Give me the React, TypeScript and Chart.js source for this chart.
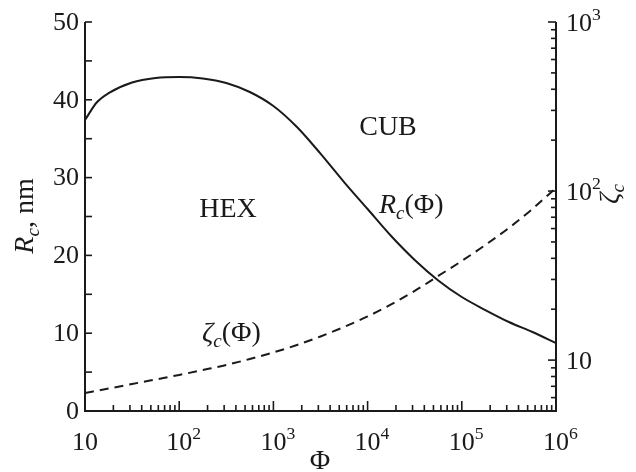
import { useEffect, useRef } from "react";
import { Chart, registerables } from "chart.js";

Chart.register(...registerables);

// ---- data ----
const rcPhi = [10, 13.3, 17.8, 31.6, 56.2, 100, 178, 316, 562, 1000, 1778, 3162, 5623, 10000, 17783, 31623, 56234, 100000, 177828, 316228, 562341, 1000000];
const rcValues = [37.4, 39.65, 40.85, 42.22, 42.8, 42.93, 42.74, 42.16, 41.0, 39.2, 36.5, 33.08, 29.43, 25.96, 22.49, 19.41, 16.78, 14.65, 12.98, 11.44, 10.15, 8.74];

const zetaPhi = [10, 17.8, 31.6, 56.2, 100, 178, 316, 562, 1000, 1778, 3162, 5623, 10000, 17783, 31623, 56234, 100000, 177828, 316228, 562341, 1000000];
const zetaValues = [6.39, 6.79, 7.22, 7.68, 8.17, 8.74, 9.36, 10.15, 11.1, 12.29, 13.8, 15.71, 18.12, 21.35, 25.65, 31.47, 38.6, 48.0, 60.5, 78.4, 104.4];

const leftTickValues = [0, 10, 20, 30, 40, 50];
const leftTickLabels = ["0", "10", "20", "30", "40", "50"];
const xDecades = [10, 100, 1000, 10000, 100000, 1000000];
const xTickExponents = ["", "2", "3", "4", "5", "6"];
const rightDecades = [10, 100, 1000];
const rightTickExponents = ["", "2", "3"];

const FONT = '"Liberation Serif", "Times New Roman", Times, serif';
const INK = "#1a1a1a";

type Part = { t: string; it?: boolean; sub?: boolean; sup?: boolean };

function fontFor(p: Part, size: number) {
  const s = p.sub || p.sup ? size * 0.68 : size;
  return `${p.it ? "italic " : ""}${s}px ${FONT}`;
}

function drawRich(ctx: CanvasRenderingContext2D, parts: Part[], x: number, y: number, align: "left" | "center" | "right", size: number) {
  const widths = parts.map((p) => {
    ctx.font = fontFor(p, size);
    return ctx.measureText(p.t).width;
  });
  const w = widths.reduce((a, b) => a + b, 0);
  let cx = align === "left" ? x : align === "center" ? x - w / 2 : x - w;
  ctx.textAlign = "left";
  ctx.textBaseline = "alphabetic";
  parts.forEach((p, i) => {
    ctx.font = fontFor(p, size);
    const dy = p.sub ? size * 0.22 : p.sup ? -size * 0.42 : 0;
    ctx.fillText(p.t, cx, y + dy);
    cx += widths[i];
  });
}

const axesPlugin = {
  id: "sciAxes",
  afterDatasetsDraw(chart: any) {
    const ctx: CanvasRenderingContext2D = chart.ctx;
    const xs = chart.scales.x;
    const yl = chart.scales.y;
    const yr = chart.scales.y2;
    const { left, right, top, bottom } = chart.chartArea;
    const size = 26;
    const big = 28;
    ctx.save();
    ctx.strokeStyle = INK;
    ctx.fillStyle = INK;
    ctx.lineWidth = 2;
    ctx.lineCap = "butt";

    // axis lines (left, bottom, right)
    ctx.beginPath();
    ctx.moveTo(left, top);
    ctx.lineTo(left, bottom);
    ctx.lineTo(right, bottom);
    ctx.lineTo(right, top);
    ctx.stroke();

    // left ticks
    ctx.lineWidth = 1.6;
    for (let v = 0; v <= 50; v += 5) {
      const py = yl.getPixelForValue(v);
      ctx.beginPath();
      ctx.moveTo(left, py);
      ctx.lineTo(left + 7, py);
      ctx.stroke();
    }
    // x ticks
    for (let d = 1; d <= 6; d++) {
      for (let m = 1; m <= 9; m++) {
        const v = m * Math.pow(10, d);
        if (v > 1000000) break;
        if (d === 1 && m === 1) continue;
        const px = xs.getPixelForValue(v);
        const len = m === 1 ? 10 : 6;
        ctx.beginPath();
        ctx.moveTo(px, bottom);
        ctx.lineTo(px, bottom - len);
        ctx.stroke();
      }
    }
    // right ticks
    for (let d = 0; d <= 3; d++) {
      for (let m = 1; m <= 9; m++) {
        const v = m * Math.pow(10, d);
        if (v < 5 || v > 1000) continue;
        const py = yr.getPixelForValue(v);
        const len = m === 1 ? 8 : 5;
        ctx.beginPath();
        ctx.moveTo(right, py);
        ctx.lineTo(right - len, py);
        ctx.stroke();
      }
    }

    // left tick labels
    ctx.font = `${size}px ${FONT}`;
    ctx.textAlign = "right";
    ctx.textBaseline = "middle";
    leftTickValues.forEach((v, i) => {
      ctx.fillText(leftTickLabels[i], left - 6, yl.getPixelForValue(v) + 1);
    });

    // x tick labels
    xDecades.forEach((v, i) => {
      const px = xs.getPixelForValue(v);
      ctx.font = `${size}px ${FONT}`;
      const w = ctx.measureText("10").width;
      drawRich(ctx, [{ t: "10" }], px, bottom + 39, "center", size);
      if (xTickExponents[i]) {
        drawRich(ctx, [{ t: xTickExponents[i], sup: true }], px + w / 2, bottom + 39, "left", size);
      }
    });

    // right tick labels
    rightDecades.forEach((v, i) => {
      const py = yr.getPixelForValue(v);
      const parts: Part[] = [{ t: "10" }];
      if (rightTickExponents[i]) parts.push({ t: rightTickExponents[i], sup: true });
      drawRich(ctx, parts, right + 10, py + 9, "left", size);
    });

    // x title
    drawRich(ctx, [{ t: "Φ" }], 320, 469, "center", big);

    // left title (rotated)
    ctx.save();
    ctx.translate(33, 216);
    ctx.rotate(-Math.PI / 2);
    drawRich(ctx, [{ t: "R", it: true }, { t: "c", it: true, sub: true }, { t: ", nm" }], 0, 0, "center", big);
    ctx.restore();

    // right title (rotated)
    ctx.save();
    ctx.translate(618, 194);
    ctx.rotate(-Math.PI / 2);
    drawRich(ctx, [{ t: "ζ", it: true }, { t: "c", it: true, sub: true }], 0, 0, "center", big);
    ctx.restore();

    // annotations
    drawRich(ctx, [{ t: "HEX" }], 228, 217, "center", big);
    drawRich(ctx, [{ t: "CUB" }], 388, 135, "center", big);
    drawRich(ctx, [{ t: "R", it: true }, { t: "c", it: true, sub: true }, { t: "(Φ)" }], 379, 213, "left", big);
    drawRich(ctx, [{ t: "ζ", it: true }, { t: "c", it: true, sub: true }, { t: "(Φ)" }], 202, 341, "left", big);

    ctx.restore();
  },
};

export default function App() {
  const ref = useRef<HTMLCanvasElement | null>(null);
  useEffect(() => {
    if (!ref.current) return;
    const chart = new Chart(ref.current, {
      type: "line",
      data: {
        datasets: [
          {
            label: "Rc",
            data: rcPhi.map((x, i) => ({ x, y: rcValues[i] })),
            yAxisID: "y",
            borderColor: INK,
            borderWidth: 2,
            pointRadius: 0,
            cubicInterpolationMode: "monotone",
            fill: false,
          },
          {
            label: "zeta",
            data: zetaPhi.map((x, i) => ({ x, y: zetaValues[i] })),
            yAxisID: "y2",
            borderColor: INK,
            borderWidth: 2,
            borderDash: [9, 6],
            pointRadius: 0,
            cubicInterpolationMode: "monotone",
            fill: false,
          },
        ],
      },
      options: {
        animation: false,
        responsive: false,
        devicePixelRatio: 1,
        layout: { padding: { left: 85, right: 80, top: 22, bottom: 61 } },
        plugins: { legend: { display: false }, tooltip: { enabled: false } },
        scales: {
          x: { type: "logarithmic", min: 10, max: 1000000, display: false },
          y: { type: "linear", min: 0, max: 50, display: false, position: "left" },
          y2: { type: "logarithmic", min: 5, max: 1000, display: false, position: "right" },
        },
      },
      plugins: [axesPlugin],
    });
    return () => chart.destroy();
  }, []);
  return (
    <div style={{ position: "fixed", left: 0, top: 0, width: 636, height: 472, background: "#fff" }}>
      <canvas ref={ref} width={636} height={472} />
    </div>
  );
}
